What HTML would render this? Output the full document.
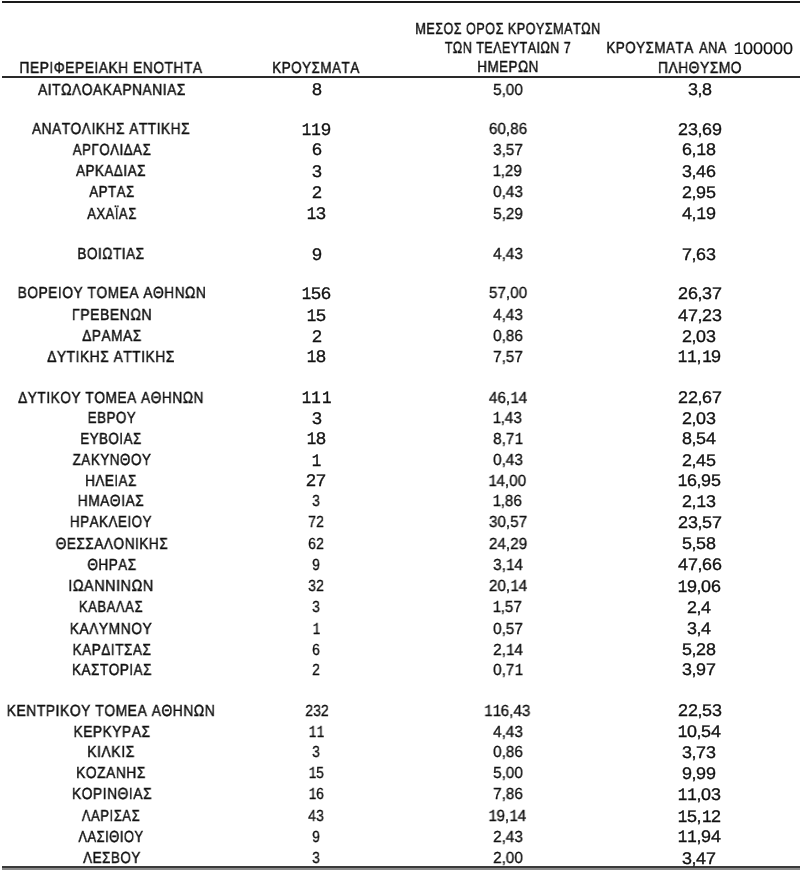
<!DOCTYPE html>
<html><head><meta charset="utf-8"><style>
html,body{margin:0;padding:0;background:#fff;width:800px;height:871px;overflow:hidden}
body{position:relative;color:#111;text-rendering:geometricPrecision}

.c,.v,.d{position:absolute;white-space:nowrap;line-height:30px;height:30px;transform-origin:50% 50%;will-change:transform;font-kerning:none;font-feature-settings:'kern' 0}
.c{font-family:"Liberation Sans",sans-serif;font-size:16px;letter-spacing:0.6px;-webkit-text-stroke:0.45px #111}
.v{font-family:"Liberation Sans",sans-serif;font-size:16.9px;-webkit-text-stroke:0.35px #111}
.v i{font-style:normal;margin:0 -0.4px}
.d{font-family:"Liberation Sans",sans-serif;font-size:16px;-webkit-text-stroke:0.3px #111}
.d i{font-style:normal;margin:0 0px}
b{font-weight:normal;display:inline-block;text-align:center;font-family:"Liberation Mono",monospace}
.v b{width:9.396px;font-size:17.6px;transform:scaleX(0.85)}
.d b{width:8.896px;font-size:16.7px;transform:scaleX(0.85)}

.ln{position:absolute;left:2px;right:0}
</style></head><body>
<div class="ln" style="top:1px;height:2px;background:#1a1a1a"></div>
<div class="ln" style="top:76px;height:2px;background:#2a2a2a"></div>
<div class="ln" style="top:866px;height:2px;background:#3a3a3a"></div>
<div class="ln" style="top:868px;height:2px;background:#8a8a8a"></div>
<div class="c" style="left:110.97px;top:54px;transform:translateX(-50%) scaleX(0.8626)">ΠΕΡΙΦΕΡΕΙΑΚΗ ΕΝΟΤΗΤΑ</div>
<div class="c" style="left:316.17px;top:54px;transform:translateX(-50%) scaleX(0.8398)">ΚΡΟΥΣΜΑΤΑ</div>
<div class="c" style="left:507.68px;top:15px;transform:translateX(-50%) scaleX(0.7897)">ΜΕΣΟΣ ΟΡΟΣ ΚΡΟΥΣΜΑΤΩΝ</div>
<div class="c" style="left:507.97px;top:34px;transform:translateX(-50%) scaleX(0.7826)">ΤΩΝ ΤΕΛΕΥΤΑΙΩΝ 7</div>
<div class="c" style="left:507.64px;top:53px;transform:translateX(-50%) scaleX(0.8380)">ΗΜΕΡΩΝ</div>
<div class="c" style="left:650.07px;top:34px;transform:translateX(-50%) scaleX(0.8374)">ΚΡΟΥΣΜΑΤΑ</div>
<div class="c" style="left:713.28px;top:34px;transform:translateX(-50%) scaleX(0.8000)">ΑΝΑ</div>
<div class="v" style="left:763.07px;top:34px;transform:translateX(-50%) scaleX(1.0682);-webkit-text-stroke-width:0.15px"><b>1</b>00000</div>
<div class="c" style="left:700.17px;top:54px;transform:translateX(-50%) scaleX(0.8632)">ΠΛΗΘΥΣΜΟ</div>
<div class="c" style="left:111.71px;top:76px;transform:translateX(-50%) scaleX(0.8647)">ΑΙΤΩΛΟΑΚΑΡΝΑΝΙΑΣ</div>
<div class="v" style="left:316.52px;top:75px;transform:translateX(-50%) scaleX(1.0600)">8</div>
<div class="d" style="left:507.72px;top:76px;transform:translateX(-50%) scaleX(0.9550)">5<i>,</i>00</div>
<div class="v" style="left:699.79px;top:75px;transform:translateX(-50%) scaleX(1.0600)">3<i>,</i>8</div>
<div class="c" style="left:110.87px;top:115px;transform:translateX(-50%) scaleX(0.8571)">ΑΝΑΤΟΛΙΚΗΣ ΑΤΤΙΚΗΣ</div>
<div class="v" style="left:315.87px;top:115px;transform:translateX(-50%) scaleX(1.0600)"><b>1</b><b>1</b>9</div>
<div class="d" style="left:507.67px;top:115px;transform:translateX(-50%) scaleX(0.9550)">60<i>,</i>86</div>
<div class="v" style="left:699.67px;top:115px;transform:translateX(-50%) scaleX(1.0600)">23<i>,</i>69</div>
<div class="c" style="left:111.56px;top:136px;transform:translateX(-50%) scaleX(0.8319)">ΑΡΓΟΛΙΔΑΣ</div>
<div class="v" style="left:316.52px;top:135px;transform:translateX(-50%) scaleX(1.0600)">6</div>
<div class="d" style="left:507.72px;top:136px;transform:translateX(-50%) scaleX(0.9550)">3<i>,</i>57</div>
<div class="v" style="left:699.47px;top:135px;transform:translateX(-50%) scaleX(1.0600)">6<i>,</i><b>1</b>8</div>
<div class="c" style="left:110.78px;top:157px;transform:translateX(-50%) scaleX(0.8398)">ΑΡΚΑΔΙΑΣ</div>
<div class="v" style="left:316.52px;top:157px;transform:translateX(-50%) scaleX(1.0600)">3</div>
<div class="d" style="left:507.24px;top:157px;transform:translateX(-50%) scaleX(0.9550)"><b>1</b><i>,</i>29</div>
<div class="v" style="left:699.47px;top:157px;transform:translateX(-50%) scaleX(1.0600)">3<i>,</i>46</div>
<div class="c" style="left:111.54px;top:178px;transform:translateX(-50%) scaleX(0.8296)">ΑΡΤΑΣ</div>
<div class="v" style="left:316.52px;top:178px;transform:translateX(-50%) scaleX(1.0600)">2</div>
<div class="d" style="left:507.72px;top:178px;transform:translateX(-50%) scaleX(0.9550)">0<i>,</i>43</div>
<div class="v" style="left:699.47px;top:178px;transform:translateX(-50%) scaleX(1.0600)">2<i>,</i>95</div>
<div class="c" style="left:111.66px;top:200px;transform:translateX(-50%) scaleX(0.8167)">ΑΧΑΪΑΣ</div>
<div class="v" style="left:315.66px;top:199px;transform:translateX(-50%) scaleX(1.0600)"><b>1</b>3</div>
<div class="d" style="left:507.72px;top:200px;transform:translateX(-50%) scaleX(0.9550)">5<i>,</i>29</div>
<div class="v" style="left:699.47px;top:199px;transform:translateX(-50%) scaleX(1.0600)">4<i>,</i><b>1</b>9</div>
<div class="c" style="left:111.45px;top:240px;transform:translateX(-50%) scaleX(0.8506)">ΒΟΙΩΤΙΑΣ</div>
<div class="v" style="left:316.52px;top:240px;transform:translateX(-50%) scaleX(1.0600)">9</div>
<div class="d" style="left:507.72px;top:240px;transform:translateX(-50%) scaleX(0.9550)">4<i>,</i>43</div>
<div class="v" style="left:699.47px;top:240px;transform:translateX(-50%) scaleX(1.0600)">7<i>,</i>63</div>
<div class="c" style="left:111.64px;top:279px;transform:translateX(-50%) scaleX(0.8594)">ΒΟΡΕΙΟΥ ΤΟΜΕΑ ΑΘΗΝΩΝ</div>
<div class="v" style="left:315.87px;top:279px;transform:translateX(-50%) scaleX(1.0600)"><b>1</b>56</div>
<div class="d" style="left:507.67px;top:279px;transform:translateX(-50%) scaleX(0.9550)">57<i>,</i>00</div>
<div class="v" style="left:699.67px;top:279px;transform:translateX(-50%) scaleX(1.0600)">26<i>,</i>37</div>
<div class="c" style="left:111.56px;top:301px;transform:translateX(-50%) scaleX(0.8775)">ΓΡΕΒΕΝΩΝ</div>
<div class="v" style="left:315.66px;top:301px;transform:translateX(-50%) scaleX(1.0600)"><b>1</b>5</div>
<div class="d" style="left:507.72px;top:301px;transform:translateX(-50%) scaleX(0.9550)">4<i>,</i>43</div>
<div class="v" style="left:699.67px;top:301px;transform:translateX(-50%) scaleX(1.0600)">47<i>,</i>23</div>
<div class="c" style="left:112.03px;top:322px;transform:translateX(-50%) scaleX(0.8565)">ΔΡΑΜΑΣ</div>
<div class="v" style="left:316.52px;top:322px;transform:translateX(-50%) scaleX(1.0600)">2</div>
<div class="d" style="left:507.72px;top:322px;transform:translateX(-50%) scaleX(0.9550)">0<i>,</i>86</div>
<div class="v" style="left:699.47px;top:322px;transform:translateX(-50%) scaleX(1.0600)">2<i>,</i>03</div>
<div class="c" style="left:111.40px;top:343px;transform:translateX(-50%) scaleX(0.8626)">ΔΥΤΙΚΗΣ ΑΤΤΙΚΗΣ</div>
<div class="v" style="left:315.66px;top:342px;transform:translateX(-50%) scaleX(1.0600)"><b>1</b>8</div>
<div class="d" style="left:507.72px;top:343px;transform:translateX(-50%) scaleX(0.9550)">7<i>,</i>57</div>
<div class="v" style="left:699.13px;top:342px;transform:translateX(-50%) scaleX(1.0600)"><b>1</b><b>1</b><i>,</i><b>1</b>9</div>
<div class="c" style="left:111.08px;top:384px;transform:translateX(-50%) scaleX(0.8569)">ΔΥΤΙΚΟΥ ΤΟΜΕΑ ΑΘΗΝΩΝ</div>
<div class="v" style="left:315.86px;top:383px;transform:translateX(-50%) scaleX(1.0600)"><b>1</b><b>1</b><b>1</b></div>
<div class="d" style="left:507.67px;top:384px;transform:translateX(-50%) scaleX(0.9550)">46<i>,</i><b>1</b>4</div>
<div class="v" style="left:699.67px;top:383px;transform:translateX(-50%) scaleX(1.0600)">22<i>,</i>67</div>
<div class="c" style="left:111.76px;top:404px;transform:translateX(-50%) scaleX(0.8357)">ΕΒΡΟΥ</div>
<div class="v" style="left:316.52px;top:404px;transform:translateX(-50%) scaleX(1.0600)">3</div>
<div class="d" style="left:507.24px;top:404px;transform:translateX(-50%) scaleX(0.9550)"><b>1</b><i>,</i>43</div>
<div class="v" style="left:699.47px;top:404px;transform:translateX(-50%) scaleX(1.0600)">2<i>,</i>03</div>
<div class="c" style="left:111.26px;top:425px;transform:translateX(-50%) scaleX(0.8333)">ΕΥΒΟΙΑΣ</div>
<div class="v" style="left:315.66px;top:424px;transform:translateX(-50%) scaleX(1.0600)"><b>1</b>8</div>
<div class="d" style="left:507.72px;top:425px;transform:translateX(-50%) scaleX(0.9550)">8<i>,</i>7<b>1</b></div>
<div class="v" style="left:699.47px;top:424px;transform:translateX(-50%) scaleX(1.0600)">8<i>,</i>54</div>
<div class="c" style="left:111.70px;top:446px;transform:translateX(-50%) scaleX(0.8398)">ΖΑΚΥΝΘΟΥ</div>
<div class="v" style="left:315.98px;top:446px;transform:translateX(-50%) scaleX(1.0600)"><b>1</b></div>
<div class="d" style="left:507.72px;top:446px;transform:translateX(-50%) scaleX(0.9550)">0<i>,</i>43</div>
<div class="v" style="left:699.47px;top:446px;transform:translateX(-50%) scaleX(1.0600)">2<i>,</i>45</div>
<div class="c" style="left:111.05px;top:467px;transform:translateX(-50%) scaleX(0.8400)">ΗΛΕΙΑΣ</div>
<div class="v" style="left:316.19px;top:466px;transform:translateX(-50%) scaleX(1.0600)">27</div>
<div class="d" style="left:507.19px;top:467px;transform:translateX(-50%) scaleX(0.9550)"><b>1</b>4<i>,</i>00</div>
<div class="v" style="left:699.14px;top:466px;transform:translateX(-50%) scaleX(1.0600)"><b>1</b>6<i>,</i>95</div>
<div class="c" style="left:111.06px;top:487px;transform:translateX(-50%) scaleX(0.8618)">ΗΜΑΘΙΑΣ</div>
<div class="d" style="left:316.26px;top:487px;transform:translateX(-50%) scaleX(0.8800)">3</div>
<div class="d" style="left:507.24px;top:487px;transform:translateX(-50%) scaleX(0.9550)"><b>1</b><i>,</i>86</div>
<div class="v" style="left:699.47px;top:487px;transform:translateX(-50%) scaleX(1.0600)">2<i>,</i><b>1</b>3</div>
<div class="c" style="left:110.66px;top:508px;transform:translateX(-50%) scaleX(0.8396)">ΗΡΑΚΛΕΙΟΥ</div>
<div class="d" style="left:316.21px;top:508px;transform:translateX(-50%) scaleX(0.8800)">72</div>
<div class="d" style="left:507.67px;top:508px;transform:translateX(-50%) scaleX(0.9550)">30<i>,</i>57</div>
<div class="v" style="left:699.67px;top:508px;transform:translateX(-50%) scaleX(1.0600)">23<i>,</i>57</div>
<div class="c" style="left:111.54px;top:530px;transform:translateX(-50%) scaleX(0.8527)">ΘΕΣΣΑΛΟΝΙΚΗΣ</div>
<div class="d" style="left:316.21px;top:530px;transform:translateX(-50%) scaleX(0.8800)">62</div>
<div class="d" style="left:507.67px;top:530px;transform:translateX(-50%) scaleX(0.9550)">24<i>,</i>29</div>
<div class="v" style="left:699.47px;top:529px;transform:translateX(-50%) scaleX(1.0600)">5<i>,</i>58</div>
<div class="c" style="left:111.50px;top:551px;transform:translateX(-50%) scaleX(0.8448)">ΘΗΡΑΣ</div>
<div class="d" style="left:316.26px;top:551px;transform:translateX(-50%) scaleX(0.8800)">9</div>
<div class="d" style="left:507.72px;top:551px;transform:translateX(-50%) scaleX(0.9550)">3<i>,</i><b>1</b>4</div>
<div class="v" style="left:699.67px;top:550px;transform:translateX(-50%) scaleX(1.0600)">47<i>,</i>66</div>
<div class="c" style="left:110.75px;top:572px;transform:translateX(-50%) scaleX(0.8968)">ΙΩΑΝΝΙΝΩΝ</div>
<div class="d" style="left:316.21px;top:572px;transform:translateX(-50%) scaleX(0.8800)">32</div>
<div class="d" style="left:507.67px;top:572px;transform:translateX(-50%) scaleX(0.9550)">20<i>,</i><b>1</b>4</div>
<div class="v" style="left:699.14px;top:572px;transform:translateX(-50%) scaleX(1.0600)"><b>1</b>9<i>,</i>06</div>
<div class="c" style="left:111.35px;top:593px;transform:translateX(-50%) scaleX(0.8221)">ΚΑΒΑΛΑΣ</div>
<div class="d" style="left:316.26px;top:593px;transform:translateX(-50%) scaleX(0.8800)">3</div>
<div class="d" style="left:507.24px;top:593px;transform:translateX(-50%) scaleX(0.9550)"><b>1</b><i>,</i>57</div>
<div class="v" style="left:699.26px;top:593px;transform:translateX(-50%) scaleX(1.0600)">2<i>,</i>4</div>
<div class="c" style="left:110.79px;top:615px;transform:translateX(-50%) scaleX(0.8638)">ΚΑΛΥΜΝΟΥ</div>
<div class="d" style="left:315.81px;top:615px;transform:translateX(-50%) scaleX(0.8800)"><b>1</b></div>
<div class="d" style="left:507.72px;top:615px;transform:translateX(-50%) scaleX(0.9550)">0<i>,</i>57</div>
<div class="v" style="left:699.26px;top:614px;transform:translateX(-50%) scaleX(1.0600)">3<i>,</i>4</div>
<div class="c" style="left:111.71px;top:636px;transform:translateX(-50%) scaleX(0.8495)">ΚΑΡΔΙΤΣΑΣ</div>
<div class="d" style="left:316.26px;top:636px;transform:translateX(-50%) scaleX(0.8800)">6</div>
<div class="d" style="left:507.72px;top:636px;transform:translateX(-50%) scaleX(0.9550)">2<i>,</i><b>1</b>4</div>
<div class="v" style="left:699.47px;top:635px;transform:translateX(-50%) scaleX(1.0600)">5<i>,</i>28</div>
<div class="c" style="left:111.51px;top:656px;transform:translateX(-50%) scaleX(0.8462)">ΚΑΣΤΟΡΙΑΣ</div>
<div class="d" style="left:316.26px;top:656px;transform:translateX(-50%) scaleX(0.8800)">2</div>
<div class="d" style="left:507.72px;top:656px;transform:translateX(-50%) scaleX(0.9550)">0<i>,</i>7<b>1</b></div>
<div class="v" style="left:699.47px;top:655px;transform:translateX(-50%) scaleX(1.0600)">3<i>,</i>97</div>
<div class="c" style="left:110.54px;top:697px;transform:translateX(-50%) scaleX(0.8681)">ΚΕΝΤΡΙΚΟΥ ΤΟΜΕΑ ΑΘΗΝΩΝ</div>
<div class="d" style="left:316.61px;top:697px;transform:translateX(-50%) scaleX(0.8800)">232</div>
<div class="d" style="left:507.14px;top:697px;transform:translateX(-50%) scaleX(0.9550)"><b>1</b><b>1</b>6<i>,</i>43</div>
<div class="v" style="left:699.67px;top:696px;transform:translateX(-50%) scaleX(1.0600)">22<i>,</i>53</div>
<div class="c" style="left:111.54px;top:718px;transform:translateX(-50%) scaleX(0.8602)">ΚΕΡΚΥΡΑΣ</div>
<div class="d" style="left:315.76px;top:718px;transform:translateX(-50%) scaleX(0.8800)"><b>1</b><b>1</b></div>
<div class="d" style="left:507.72px;top:718px;transform:translateX(-50%) scaleX(0.9550)">4<i>,</i>43</div>
<div class="v" style="left:699.14px;top:717px;transform:translateX(-50%) scaleX(1.0600)"><b>1</b>0<i>,</i>54</div>
<div class="c" style="left:111.15px;top:738px;transform:translateX(-50%) scaleX(0.8736)">ΚΙΛΚΙΣ</div>
<div class="d" style="left:316.26px;top:738px;transform:translateX(-50%) scaleX(0.8800)">3</div>
<div class="d" style="left:507.72px;top:738px;transform:translateX(-50%) scaleX(0.9550)">0<i>,</i>86</div>
<div class="v" style="left:699.47px;top:738px;transform:translateX(-50%) scaleX(1.0600)">3<i>,</i>73</div>
<div class="c" style="left:111.30px;top:759px;transform:translateX(-50%) scaleX(0.8639)">ΚΟΖΑΝΗΣ</div>
<div class="d" style="left:315.77px;top:759px;transform:translateX(-50%) scaleX(0.8800)"><b>1</b>5</div>
<div class="d" style="left:507.72px;top:759px;transform:translateX(-50%) scaleX(0.9550)">5<i>,</i>00</div>
<div class="v" style="left:699.47px;top:759px;transform:translateX(-50%) scaleX(1.0600)">9<i>,</i>99</div>
<div class="c" style="left:111.55px;top:780px;transform:translateX(-50%) scaleX(0.8648)">ΚΟΡΙΝΘΙΑΣ</div>
<div class="d" style="left:315.77px;top:780px;transform:translateX(-50%) scaleX(0.8800)"><b>1</b>6</div>
<div class="d" style="left:507.72px;top:780px;transform:translateX(-50%) scaleX(0.9550)">7<i>,</i>86</div>
<div class="v" style="left:699.13px;top:780px;transform:translateX(-50%) scaleX(1.0600)"><b>1</b><b>1</b><i>,</i>03</div>
<div class="c" style="left:111.46px;top:802px;transform:translateX(-50%) scaleX(0.8211)">ΛΑΡΙΣΑΣ</div>
<div class="d" style="left:316.21px;top:802px;transform:translateX(-50%) scaleX(0.8800)">43</div>
<div class="d" style="left:507.19px;top:802px;transform:translateX(-50%) scaleX(0.9550)"><b>1</b>9<i>,</i><b>1</b>4</div>
<div class="v" style="left:699.14px;top:802px;transform:translateX(-50%) scaleX(1.0600)"><b>1</b>5<i>,</i><b>1</b>2</div>
<div class="c" style="left:111.21px;top:823px;transform:translateX(-50%) scaleX(0.8088)">ΛΑΣΙΘΙΟΥ</div>
<div class="d" style="left:316.26px;top:823px;transform:translateX(-50%) scaleX(0.8800)">9</div>
<div class="d" style="left:507.72px;top:823px;transform:translateX(-50%) scaleX(0.9550)">2<i>,</i>43</div>
<div class="v" style="left:699.13px;top:822px;transform:translateX(-50%) scaleX(1.0600)"><b>1</b><b>1</b><i>,</i>94</div>
<div class="c" style="left:111.67px;top:844px;transform:translateX(-50%) scaleX(0.8426)">ΛΕΣΒΟΥ</div>
<div class="d" style="left:316.26px;top:844px;transform:translateX(-50%) scaleX(0.8800)">3</div>
<div class="d" style="left:507.72px;top:844px;transform:translateX(-50%) scaleX(0.9550)">2<i>,</i>00</div>
<div class="v" style="left:699.47px;top:844px;transform:translateX(-50%) scaleX(1.0600)">3<i>,</i>47</div>
</body></html>
